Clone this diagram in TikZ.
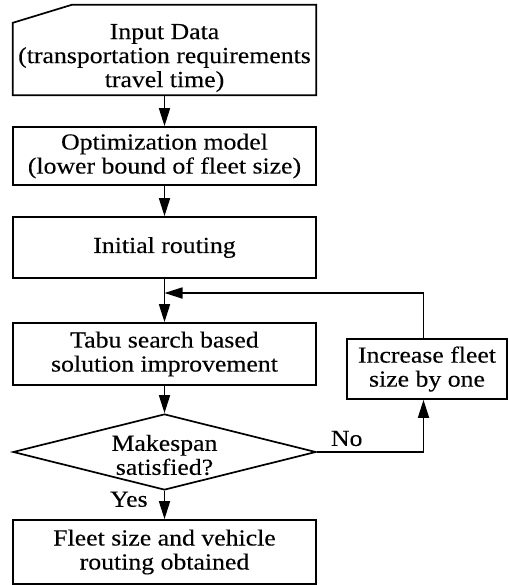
\documentclass[tikz,border=0pt]{standalone}
\usepackage{fontspec}
\setmainfont{Liberation Serif}[FakeStretch=1.12, FakeBold=0.25]
\usetikzlibrary{arrows.meta,shapes.geometric}
\begin{document}
\begin{tikzpicture}[x=1pt,y=-1pt,
  every node/.style={font=\fontsize{23}{24}\selectfont, align=center, inner sep=0pt},
  box/.style={draw, line width=1.7pt, minimum width=303pt},
  arr/.style={line width=1.7pt, -{Triangle[length=18pt,width=11pt]}},
  ln/.style={line width=1.7pt}]
\useasboundingbox (0,0) rectangle (508,585);
% Input data (custom cut corner)
\node[minimum width=303pt, minimum height=90pt] (in) at (164.5,50) {};
\draw[ln, line join=miter] (in.south west) -- (in.south east) -- (in.north east)
  -- ([xshift=59pt]in.north west) -- ([yshift=-18pt]in.north west) -- cycle;
\node (intext) at (164.5,58) {Input Data\\(transportation requirements\\travel time)};
\node[box, minimum height=58pt] (opt) at (164.5,156) {Optimization model\\(lower bound of fleet size)};
\node[box, minimum height=61pt] (init) at (164.5,247.5) {Initial routing};
\coordinate (fb) at (164.5,293);
\node[box, minimum height=62pt] (tabu) at (164.5,354) {Tabu search based\\solution improvement};
\node[diamond, draw, line width=1.7pt, minimum width=303pt, minimum height=76pt] (dec) at (164.5,452) {};
\node (dectext) at (164.5,455) {Makespan\\satisfied?};
\node[box, minimum height=64pt] (fin) at (164.5,552) {Fleet size and vehicle\\routing obtained};
\node[box, minimum width=160pt, minimum height=60pt] (inc) at (427,369) {Increase fleet\\size by one};
\draw[arr] (in) -- (opt);
\draw[arr] (opt) -- (init);
\draw[arr] (init) -- (tabu);
\draw[arr] (tabu) -- (dec);
\draw[arr] (dec) -- node[pos=0.3, left=16pt] {Yes} (fin);
\draw[arr] (dec.east) -| node[pos=0.14, above=5pt] {No} ([xshift=-3.5pt]inc.south);
\draw[arr] ([xshift=-3.5pt]inc.north) |- (fb);
\end{tikzpicture}
\end{document}
